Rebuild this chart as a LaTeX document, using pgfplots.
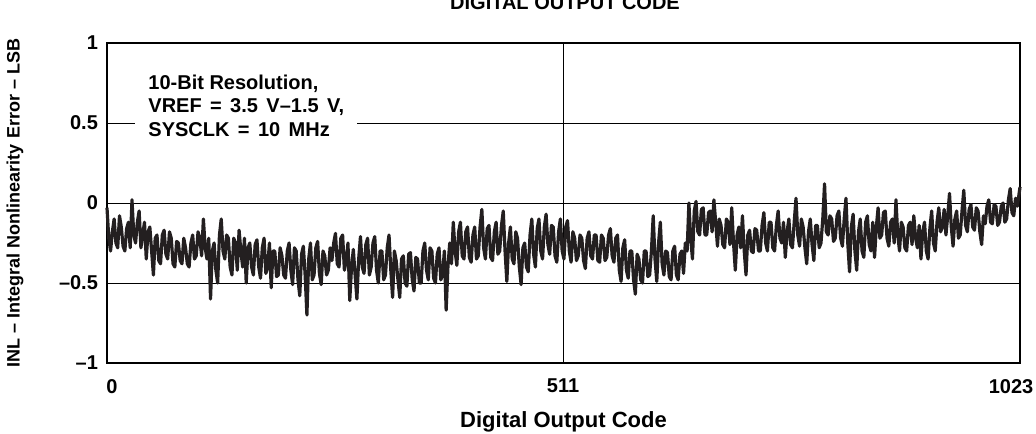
\documentclass[border=0pt]{standalone}
\usepackage{pgfplots}
\pgfplotsset{compat=1.18}
\usepackage{fontspec}
\setmainfont{Liberation Sans}
\definecolor{inkc}{HTML}{231F20}
\begin{document}
\begin{tikzpicture}
\useasboundingbox (-53.5pt,-35pt) rectangle (464.5pt,181.5pt);
\begin{axis}[
  scale only axis,
  width=456.5pt, height=160pt,
  xmin=0, xmax=1023, ymin=-1, ymax=1,
  xtick={0,511,1023}, xticklabels={\hspace*{5pt}0,511,1023\hspace*{9pt}},
  ytick={-1,-0.5,0,0.5,1}, yticklabels={–1,–0.5,0,0.5,1},
  major tick length=0pt,
  grid=major,
  grid style={black, line width=0.5pt},
  axis line style={black, line width=0.6pt},
  tick label style={font=\fontsize{10}{12}\selectfont\bfseries},
  xticklabel shift=4.5pt,
  yticklabel shift=1pt,
  xlabel={Digital Output Code},
  ylabel={INL -- Integral Nonlinearity Error -- LSB},
  xlabel style={font=\fontsize{11}{13}\selectfont\bfseries, at={(axis description cs:0.5,-0.2)}, anchor=base},
  ylabel style={font=\fontsize{9}{11}\selectfont\bfseries, at={(axis description cs:-0.1008,0.5)}, anchor=center},
  clip=false,
]
\addplot[color=inkc, line width=1.6pt, line join=round] coordinates {
(0,-0.03)(2,-0.22)(4,-0.30)(6,-0.18)(8,-0.10)(10,-0.25)(12,-0.28)(14,-0.08)(16,-0.15)(18,-0.27)
(20,-0.30)(22,-0.16)(24,-0.12)(26,-0.28)(28,0.02)(30,-0.20)(32,-0.25)(34,-0.12)(36,-0.05)(38,-0.28)
(40,-0.20)(42,-0.12)(44,-0.35)(46,-0.18)(48,-0.15)(50,-0.30)(52,-0.45)(54,-0.22)(56,-0.20)(58,-0.36)
(60,-0.38)(62,-0.20)(64,-0.17)(66,-0.32)(68,-0.35)(70,-0.18)(72,-0.22)(74,-0.38)(76,-0.40)(78,-0.24)
(80,-0.25)(82,-0.36)(84,-0.38)(86,-0.22)(88,-0.28)(90,-0.38)(92,-0.40)(94,-0.25)(96,-0.20)(98,-0.35)
(100,-0.33)(102,-0.18)(104,-0.22)(106,-0.33)(108,-0.10)(110,-0.28)(112,-0.35)(114,-0.22)(116,-0.60)(118,-0.30)
(120,-0.25)(122,-0.42)(124,-0.50)(126,-0.20)(128,-0.10)(130,-0.30)(132,-0.35)(134,-0.20)(136,-0.22)(138,-0.40)
(140,-0.45)(142,-0.22)(144,-0.25)(146,-0.42)(148,-0.17)(150,-0.30)(152,-0.40)(154,-0.22)(156,-0.50)(158,-0.28)
(160,-0.25)(162,-0.40)(164,-0.45)(166,-0.26)(168,-0.23)(170,-0.40)(172,-0.47)(174,-0.28)(176,-0.22)(178,-0.44)
(180,-0.40)(182,-0.25)(184,-0.53)(186,-0.30)(188,-0.30)(190,-0.46)(192,-0.45)(194,-0.28)(196,-0.33)(198,-0.45)
(200,-0.47)(202,-0.30)(204,-0.25)(206,-0.42)(208,-0.51)(210,-0.28)(212,-0.30)(214,-0.48)(216,-0.58)(218,-0.32)
(220,-0.27)(222,-0.45)(224,-0.70)(226,-0.35)(228,-0.25)(230,-0.48)(232,-0.45)(234,-0.28)(236,-0.24)(238,-0.44)
(240,-0.51)(242,-0.30)(244,-0.33)(246,-0.45)(248,-0.42)(250,-0.28)(252,-0.36)(254,-0.25)(256,-0.19)(258,-0.38)
(260,-0.40)(262,-0.22)(264,-0.20)(266,-0.42)(268,-0.36)(270,-0.25)(272,-0.61)(274,-0.40)(276,-0.29)(278,-0.45)
(280,-0.60)(282,-0.35)(284,-0.21)(286,-0.40)(288,-0.44)(290,-0.26)(292,-0.22)(294,-0.45)(296,-0.40)(298,-0.25)
(300,-0.21)(302,-0.42)(304,-0.50)(306,-0.30)(308,-0.30)(310,-0.48)(312,-0.45)(314,-0.28)(316,-0.20)(318,-0.42)
(320,-0.59)(322,-0.30)(324,-0.36)(326,-0.48)(328,-0.59)(330,-0.35)(332,-0.33)(334,-0.50)(336,-0.52)(338,-0.32)
(340,-0.31)(342,-0.48)(344,-0.55)(346,-0.34)(348,-0.35)(350,-0.50)(352,-0.50)(354,-0.30)(356,-0.25)(358,-0.42)
(360,-0.48)(362,-0.28)(364,-0.30)(366,-0.47)(368,-0.50)(370,-0.32)(372,-0.28)(374,-0.48)(376,-0.45)(378,-0.30)
(380,-0.67)(382,-0.40)(384,-0.25)(386,-0.38)(388,-0.12)(390,-0.30)(392,-0.39)(394,-0.18)(396,-0.12)(398,-0.33)
(400,-0.35)(402,-0.18)(404,-0.15)(406,-0.34)(408,-0.37)(410,-0.20)(412,-0.15)(414,-0.35)(416,-0.33)(418,-0.15)
(420,-0.04)(422,-0.28)(424,-0.35)(426,-0.16)(428,-0.14)(430,-0.34)(432,-0.36)(434,-0.18)(436,-0.12)(438,-0.32)
(440,-0.30)(442,-0.14)(444,-0.05)(446,-0.30)(448,-0.49)(450,-0.25)(452,-0.15)(454,-0.35)(456,-0.38)(458,-0.18)
(460,-0.22)(462,-0.40)(464,-0.51)(466,-0.28)(468,-0.25)(470,-0.40)(472,-0.43)(474,-0.20)(476,-0.10)(478,-0.32)
(480,-0.40)(482,-0.16)(484,-0.10)(486,-0.30)(488,-0.35)(490,-0.15)(492,-0.07)(494,-0.26)(496,-0.32)(498,-0.14)
(500,-0.15)(502,-0.33)(504,-0.37)(506,-0.18)(508,-0.10)(510,-0.30)(512,-0.35)(514,-0.15)(516,-0.11)(518,-0.30)
(520,-0.37)(522,-0.18)(524,-0.22)(526,-0.36)(528,-0.33)(530,-0.20)(532,-0.22)(534,-0.36)(536,-0.41)(538,-0.22)
(540,-0.18)(542,-0.33)(544,-0.35)(546,-0.20)(548,-0.20)(550,-0.36)(552,-0.37)(554,-0.20)(556,-0.22)(558,-0.36)
(560,-0.34)(562,-0.20)(564,-0.16)(566,-0.33)(568,-0.37)(570,-0.22)(572,-0.20)(574,-0.42)(576,-0.49)(578,-0.28)
(580,-0.23)(582,-0.42)(584,-0.47)(586,-0.30)(588,-0.30)(590,-0.48)(592,-0.57)(594,-0.32)(596,-0.35)(598,-0.48)
(600,-0.50)(602,-0.30)(604,-0.30)(606,-0.46)(608,-0.45)(610,-0.30)(612,-0.08)(614,-0.35)(616,-0.49)(618,-0.25)
(620,-0.12)(622,-0.38)(624,-0.45)(626,-0.30)(628,-0.31)(630,-0.46)(632,-0.48)(634,-0.30)(636,-0.27)(638,-0.45)
(640,-0.48)(642,-0.32)(644,-0.30)(646,-0.44)(648,-0.25)(650,-0.30)(652,0.00)(654,-0.22)(656,-0.35)(658,-0.05)
(660,0.01)(662,-0.18)(664,-0.20)(666,-0.04)(668,-0.03)(670,-0.20)(672,-0.20)(674,-0.06)(676,-0.05)(678,-0.18)
(680,0.02)(682,-0.12)(684,-0.27)(686,-0.10)(688,-0.14)(690,-0.26)(692,-0.28)(694,-0.10)(696,-0.12)(698,-0.26)
(700,-0.03)(702,-0.25)(704,-0.42)(706,-0.20)(708,-0.15)(710,-0.28)(712,-0.08)(714,-0.30)(716,-0.45)(718,-0.20)
(720,-0.17)(722,-0.30)(724,-0.31)(726,-0.16)(728,-0.17)(730,-0.30)(732,-0.30)(734,-0.14)(736,-0.06)(738,-0.25)
(740,-0.30)(742,-0.12)(744,-0.12)(746,-0.28)(748,-0.30)(750,-0.14)(752,-0.05)(754,-0.22)(756,-0.25)(758,-0.12)
(760,-0.34)(762,-0.18)(764,-0.10)(766,-0.26)(768,-0.28)(770,-0.12)(772,0.03)(774,-0.20)(776,-0.27)(778,-0.10)
(780,-0.15)(782,-0.28)(784,-0.38)(786,-0.18)(788,-0.10)(790,-0.26)(792,-0.36)(794,-0.14)(796,-0.14)(798,-0.28)
(800,-0.25)(802,-0.10)(804,0.12)(806,-0.18)(808,-0.20)(810,-0.08)(812,-0.10)(814,-0.24)(816,-0.22)(818,-0.08)
(820,-0.05)(822,-0.22)(824,-0.27)(826,-0.10)(828,0.03)(830,-0.25)(832,-0.43)(834,-0.15)(836,-0.07)(838,-0.30)
(840,-0.42)(842,-0.18)(844,-0.10)(846,-0.30)(848,-0.34)(850,-0.12)(852,-0.08)(854,-0.26)(856,-0.30)(858,-0.12)
(860,-0.34)(862,-0.15)(864,-0.03)(866,-0.22)(868,-0.20)(870,-0.06)(872,-0.05)(874,-0.22)(876,-0.27)(878,-0.12)
(880,-0.10)(882,-0.25)(884,0.02)(886,-0.20)(888,-0.30)(890,-0.12)(892,-0.15)(894,-0.28)(896,-0.30)(898,-0.14)
(900,-0.12)(902,-0.26)(904,-0.08)(906,-0.22)(908,-0.28)(910,-0.14)(912,-0.35)(914,-0.18)(916,-0.12)(918,-0.30)
(920,-0.35)(922,-0.16)(924,-0.05)(926,-0.25)(928,-0.30)(930,-0.12)(932,-0.03)(934,-0.18)(936,-0.15)(938,-0.04)
(940,-0.20)(942,-0.08)(944,0.06)(946,-0.15)(948,-0.27)(950,-0.10)(952,-0.05)(954,-0.22)(956,-0.20)(958,-0.05)
(960,0.08)(962,-0.14)(964,-0.18)(966,-0.04)(968,-0.01)(970,-0.15)(972,-0.17)(974,-0.03)(976,-0.05)(978,-0.18)
(980,-0.26)(982,-0.08)(984,-0.13)(986,-0.02)(988,0.02)(990,-0.12)(992,-0.13)(994,-0.01)(996,-0.02)(998,-0.14)
(1000,-0.12)(1002,-0.02)(1004,0.00)(1006,-0.12)(1008,-0.10)(1010,0.02)(1012,0.09)(1014,-0.06)(1016,-0.08)(1018,0.03)
(1020,-0.02)(1023,0.10)
};
\node[fill=white, anchor=west, align=left, inner xsep=6.5pt, inner ysep=5pt,
      font=\fontsize{10}{11.75}\selectfont\bfseries] at (axis cs:31.4,0.61)
  {10-Bit Resolution,\\{\spaceskip=4.2pt VREF = 3.5 V–1.5 V,}\\{\spaceskip=4.2pt SYSCLK = 10 MHz}};
\end{axis}
\node[anchor=base, font=\fontsize{10}{12}\selectfont\bfseries] at (229pt,176.5pt) {DIGITAL OUTPUT CODE};
\end{tikzpicture}
\end{document}
